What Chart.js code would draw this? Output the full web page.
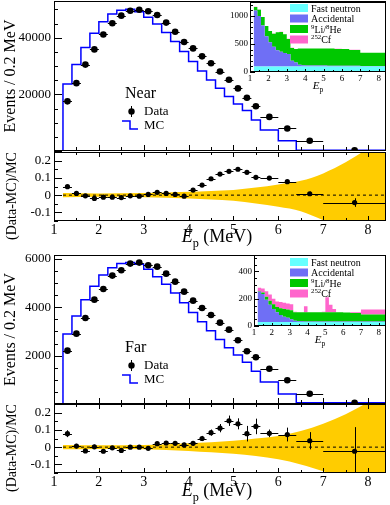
<!DOCTYPE html>
<html>
<head>
<meta charset="utf-8">
<title>Prompt energy spectra, Near and Far</title>
<script src="https://cdn.jsdelivr.net/npm/chart.js@4.4.1/dist/chart.umd.min.js"></script>
<style>
  body { margin: 0; background: #fff; }
  #fig { position: relative; width: 390px; height: 505px; overflow: hidden; background: #fff; }
  #fig canvas { position: absolute; }
</style>
</head>
<body>
<div id="fig">
  <canvas id="nearMain" width="390" height="152" style="left:0;top:0"></canvas>
  <canvas id="nearRatio" width="390" height="100" style="left:0;top:151px"></canvas>
  <canvas id="nearInset" width="162" height="96" style="left:228px;top:0"></canvas>
  <canvas id="farMain" width="390" height="152" style="left:0;top:253px"></canvas>
  <canvas id="farRatio" width="390" height="102" style="left:0;top:403px"></canvas>
  <canvas id="farInset" width="162" height="96" style="left:228px;top:253px"></canvas>
</div>
<script>
// bins (MeV): 0.2 wide up to 5.6, then wider ones
const binEdges = [1.2, 1.4, 1.6, 1.8, 2.0, 2.2, 2.4, 2.6, 2.8, 3.0, 3.2, 3.4, 3.6, 3.8, 4.0, 4.2, 4.4, 4.6, 4.8, 5.0, 5.2, 5.4, 5.6, 6.0, 6.4, 7.0, 8.4];
const binCenters = [1.3, 1.5, 1.7, 1.9, 2.1, 2.3, 2.5, 2.7, 2.9, 3.1, 3.3, 3.5, 3.7, 3.9, 4.1, 4.3, 4.5, 4.7, 4.9, 5.1, 5.3, 5.5, 5.8, 6.2, 6.7, 7.7];
const xTickLabels = [1, 2, 3, 4, 5, 6, 7, 8];

// Near
const nearData = [17550, 23970, 30530, 35900, 41170, 45160, 47830, 49580, 49930, 49370, 48070, 45370, 42110, 38490, 36250, 33440, 30980, 28070, 25160, 22110, 18830, 15790, 12040, 7970, 3610, 250];
const nearMC = [16700, 23700, 30600, 36600, 41600, 45700, 48400, 49750, 50100, 49200, 47300, 44900, 41900, 38700, 35200, 31600, 28300, 25050, 22150, 19300, 16650, 14350, 10950, 7390, 3580, 260];
const nearRatio = [0.049, 0.010, -0.004, -0.019, -0.012, -0.012, -0.014, -0.004, -0.006, 0.004, 0.016, 0.010, 0.004, -0.006, 0.029, 0.058, 0.095, 0.122, 0.138, 0.150, 0.132, 0.103, 0.099, 0.078, 0.008, -0.043];
const nearRatioErr = [0.005, 0.004, 0.004, 0.004, 0.004, 0.004, 0.004, 0.004, 0.004, 0.004, 0.004, 0.004, 0.004, 0.004, 0.005, 0.005, 0.005, 0.006, 0.006, 0.007, 0.007, 0.008, 0.008, 0.010, 0.012, 0.025];
const nearYTicks = [20000, 40000];

// Far
const farData = [2207, 2910, 3560, 4318, 4760, 5312, 5535, 5810, 5850, 5742, 5684, 5394, 5063, 4649, 4277, 3974, 3685, 3366, 3076, 2637, 2182, 1933, 1461, 981, 426, 54];
const farMC = [2047, 2893, 3640, 4309, 4877, 5333, 5642, 5810, 5850, 5782, 5573, 5268, 4954, 4589, 4185, 3785, 3400, 3032, 2668, 2323, 2024, 1726, 1353, 914, 411, 55];
const farRatio = [0.078, 0.006, -0.022, 0.002, -0.024, -0.004, -0.019, 0.000, 0.000, -0.007, 0.020, 0.024, 0.022, 0.013, 0.022, 0.050, 0.084, 0.110, 0.153, 0.135, 0.078, 0.120, 0.080, 0.073, 0.037, -0.024];
const farRatioErr = [0.020, 0.013, 0.012, 0.012, 0.011, 0.011, 0.011, 0.010, 0.010, 0.010, 0.010, 0.011, 0.011, 0.012, 0.013, 0.015, 0.018, 0.024, 0.030, 0.032, 0.045, 0.045, 0.022, 0.040, 0.050, 0.140];
const farYTicks = [2000, 4000, 6000];

// MC systematic band (yellow), sampled along E
const bandE = [1.2, 2, 3, 4, 4.5, 5, 5.5, 6, 6.5, 7, 7.5, 8, 8.4];
const nearBandUp = [0.013, 0.010, 0.012, 0.019, 0.024, 0.030, 0.044, 0.062, 0.083, 0.126, 0.190, 0.270, 0.330];
const nearBandLo = [-0.013, -0.010, -0.012, -0.020, -0.026, -0.033, -0.048, -0.068, -0.093, -0.146, -0.210, -0.290, -0.350];
const farBandUp = [0.013, 0.011, 0.012, 0.022, 0.028, 0.037, 0.050, 0.065, 0.093, 0.135, 0.190, 0.260, 0.320];
const farBandLo = [-0.013, -0.011, -0.012, -0.022, -0.030, -0.038, -0.052, -0.070, -0.100, -0.140, -0.200, -0.280, -0.340];
const ratioYTicks = [-0.1, 0, 0.1, 0.2];

// background insets (events per bin)
const nearFast = [100, 100, 100, 100, 100, 100, 100, 100, 100, 100, 100, 100, 100, 100, 100, 100, 100, 100, 100, 100, 100, 100, 100, 100, 100, 100];
const nearAcc = [1000, 900, 730, 540, 430, 350, 290, 260, 240, 220, 100, 70, 30, 20, 18, 16, 15, 15, 14, 14, 13, 13, 12, 12, 10, 8];
const nearLiHe = [60, 110, 150, 180, 200, 235, 320, 355, 335, 270, 230, 240, 290, 300, 302, 304, 305, 305, 306, 306, 307, 307, 300, 298, 285, 235];
const nearCf = [5, 4, 3, 3, 2, 2, 2, 2, 2, 2, 1, 1, 1, 1, 1, 1, 1, 1, 1, 1, 1, 1, 1, 1, 1, 1];
const nearInsetTicks = [0, 500, 1000];

const farFast = [30, 30, 30, 30, 30, 30, 30, 30, 30, 30, 30, 30, 30, 30, 30, 30, 30, 30, 30, 30, 30, 30, 30, 30, 30, 30];
const farAcc = [220, 205, 163, 125, 95, 70, 50, 38, 30, 20, 8, 5, 4, 3, 3, 3, 3, 3, 3, 3, 3, 3, 3, 3, 3, 3];
const farLiHe = [5, 10, 22, 30, 35, 40, 50, 57, 60, 65, 62, 65, 66, 67, 67, 67, 67, 67, 67, 67, 67, 67, 67, 66, 62, 52];
const farCf = [25, 30, 40, 45, 40, 40, 45, 45, 45, 45, 5, 0, 0, 45, 0, 0, 0, 0, 5, 110, 55, 25, 0, 0, 5, 35];
const farInsetTicks = [0, 200, 400];

const bkgNames = [['Fast neutron'], ['Accidental'], ['9', 'Li/', '8', 'He'], ['252', 'Cf']];
const bkgColors = ['#66ffff', '#6f6ff5', '#00c800', '#ff66cc'];

const SERIF = '"Liberation Serif", "DejaVu Serif", serif';

// histogram outline: leading zero, one point per left edge, closing point at last edge
function stepPoints(vals) {
  const pts = [{ x: binEdges[0], y: 0 }];
  vals.forEach((v, i) => pts.push({ x: binEdges[i], y: v }));
  pts.push({ x: binEdges[binEdges.length - 1], y: vals[vals.length - 1] });
  return pts;
}
// flat top across each bin (two points per bin)
function binTops(vals) {
  const pts = [];
  vals.forEach((v, i) => {
    pts.push({ x: binEdges[i], y: v });
    pts.push({ x: binEdges[i + 1], y: v });
  });
  return pts;
}
// stack the components bin by bin, bottom first
function stackUp(comps) {
  const run = comps[0].map(() => 0);
  return comps.map(vals => vals.map((v, i) => (run[i] += v)));
}

// text with italic / sub / sup pieces: segs = [[text, kind], ...]
function drawRich(ctx, segs, x, y, size, align) {
  const fontFor = k => (k === 'i' ? 'italic ' : '') + ((k === 'sub' || k === 'sup') ? size * 0.68 : size) + 'px ' + SERIF;
  let w = 0;
  segs.forEach(([t, k]) => { ctx.font = fontFor(k); w += ctx.measureText(t).width; });
  let cx = align === 'center' ? x - w / 2 : x;
  ctx.textAlign = 'left';
  ctx.textBaseline = 'alphabetic';
  segs.forEach(([t, k]) => {
    ctx.font = fontFor(k);
    const dy = k === 'sub' ? size * 0.28 : k === 'sup' ? -size * 0.38 : 0;
    ctx.fillText(t, cx, y + dy);
    cx += ctx.measureText(t).width;
  });
}

function tickLoop(min, max, step, major, fn) {
  const n0 = Math.ceil(min / step - 1e-6), n1 = Math.floor(max / step + 1e-6);
  for (let n = n0; n <= n1; n++) {
    const v = n * step;
    const r = v / major;
    fn(v, Math.abs(r - Math.round(r)) < 1e-6);
  }
}

// fixed axis sizes, and no label overhang padding
function fixWidth(w) {
  return s => { s.width = w; s.paddingTop = 0; s.paddingBottom = 0; };
}
function fixHeight(h) {
  return s => { s.height = h; s.paddingLeft = 0; s.paddingRight = 0; };
}

// ROOT-like decoration: white pad, frame, inward ticks, error bars, titles, legends
const deco = {
  id: 'deco',
  beforeDatasetsDraw(chart, args, o) {
    if (!o.white) return;
    const a = chart.chartArea, ctx = chart.ctx;
    ctx.save();
    ctx.fillStyle = '#fff';
    ctx.fillRect(a.left, a.top, a.right - a.left, a.bottom - a.top);
    ctx.restore();
  },
  afterDatasetsDraw(chart, args, o) {
    const ctx = chart.ctx, a = chart.chartArea, xs = chart.scales.x, ys = chart.scales.y;
    ctx.save();
    // error bars
    chart.data.datasets.forEach((ds, di) => {
      if (!ds.errBars) return;
      ctx.save();
      ctx.beginPath();
      ctx.rect(a.left, a.top, a.right - a.left, a.bottom - a.top);
      ctx.clip();
      ctx.strokeStyle = '#000';
      ctx.lineWidth = 1;
      ctx.beginPath();
      ds.data.forEach((p, i) => {
        const py = Math.round(ys.getPixelForValue(p.y)) + 0.5;
        const px = Math.round(xs.getPixelForValue(p.x)) + 0.5;
        ctx.moveTo(xs.getPixelForValue(binEdges[i]), py);
        ctx.lineTo(xs.getPixelForValue(binEdges[i + 1]), py);
        if (ds.errBars.y) {
          const e = ds.errBars.y[i];
          ctx.moveTo(px, ys.getPixelForValue(p.y - e));
          ctx.lineTo(px, ys.getPixelForValue(p.y + e));
        }
      });
      ctx.stroke();
      ctx.restore();
    });
    ctx.restore();
  },
  afterDraw(chart, args, o) {
    const ctx = chart.ctx, a = chart.chartArea, xs = chart.scales.x, ys = chart.scales.y;
    ctx.save();
    ctx.strokeStyle = '#000';
    ctx.fillStyle = '#000';
    ctx.lineWidth = 1;
    // ticks
    ctx.beginPath();
    if (o.xt) {
      tickLoop(xs.min, xs.max, o.xt.step, o.xt.major, (v, maj) => {
        const L = maj ? o.xt.len[0] : o.xt.len[1];
        const px = Math.round(xs.getPixelForValue(v)) + 0.5;
        ctx.moveTo(px, a.bottom); ctx.lineTo(px, a.bottom - L);
        if (o.xt.top) { ctx.moveTo(px, a.top); ctx.lineTo(px, a.top + L); }
      });
    }
    if (o.yt) {
      tickLoop(ys.min, ys.max, o.yt.step, o.yt.major, (v, maj) => {
        const L = maj ? o.yt.len[0] : o.yt.len[1];
        const py = Math.round(ys.getPixelForValue(v)) + 0.5;
        ctx.moveTo(a.left, py); ctx.lineTo(a.left + L, py);
      });
    }
    ctx.stroke();
    // frame
    ctx.strokeRect(Math.round(a.left) + 0.5, Math.round(a.top) + 0.5, Math.round(a.right - a.left) - 1, Math.round(a.bottom - a.top) - 1);

    // axis titles
    if (o.yTitle) {
      ctx.save();
      ctx.translate(o.yTitle.x, a.top + (o.yTitle.dy === undefined ? (a.bottom - a.top) / 2 : o.yTitle.dy));
      ctx.rotate(-Math.PI / 2);
      ctx.font = o.yTitle.size + 'px ' + SERIF;
      ctx.textAlign = 'center';
      ctx.textBaseline = 'middle';
      ctx.fillText(o.yTitle.text, 0, 0);
      ctx.restore();
    }
    if (o.xTitle) {
      drawRich(ctx, [['E', 'i'], ['p', 'sub'], o.xTitle.unit ? [' (MeV)', ''] : ['', '']],
        (a.left + a.right) / 2 + (o.xTitle.dx || 0), a.bottom + o.xTitle.dy, o.xTitle.size, 'center');
    }

    // main legend: detector name, Data, MC
    if (o.mainLegend) {
      const L = a.left, T = a.top;
      ctx.font = '16px ' + SERIF;
      ctx.textAlign = 'left';
      ctx.textBaseline = 'alphabetic';
      ctx.fillText(o.mainLegend, L + 71, T + 97);
      ctx.font = '13px ' + SERIF;
      ctx.fillText('Data', L + 90, T + 114);
      ctx.fillText('MC', L + 90, T + 128);
      ctx.beginPath();
      ctx.arc(L + 77.5, T + 110.5, 3.2, 0, Math.PI * 2);
      ctx.fill();
      ctx.beginPath();
      ctx.moveTo(L + 77.5, T + 105); ctx.lineTo(L + 77.5, T + 116);
      ctx.stroke();
      ctx.strokeStyle = '#0000ff';
      ctx.lineWidth = 1.5;
      ctx.beginPath();
      ctx.moveTo(L + 68, T + 120); ctx.lineTo(L + 76, T + 120);
      ctx.lineTo(L + 76, T + 128); ctx.lineTo(L + 84, T + 128);
      ctx.stroke();
    }

    // inset legend
    if (o.insetLegend) {
      const R = a.right, T = a.top + o.insetLegend.dy;
      bkgNames.forEach((segs, i) => {
        const cy = T + i * 10.5;
        ctx.fillStyle = bkgColors[i];
        ctx.fillRect(R - 96, cy - 4, 18, 8);
        ctx.fillStyle = '#000';
        const rich = segs.length === 1 ? [[segs[0], '']] :
          segs.length === 4 ? [[segs[0], 'sup'], [segs[1], ''], [segs[2], 'sup'], [segs[3], '']] :
          [[segs[0], 'sup'], [segs[1], '']];
        drawRich(ctx, rich, R - 75, cy + 3.5, 10, 'left');
      });
    }
    ctx.restore();
  }
};

const tickFont = size => ({ family: SERIF, size: size });
const noGrid = { display: false, drawTicks: false, tickLength: 0 };

function mainChart(id, dataVals, mcVals, yMax, yTicks, yt, padTop, name) {
  return new Chart(document.getElementById(id), {
    type: 'line',
    data: {
      datasets: [
        {
          label: 'Data',
          data: binCenters.map((x, i) => ({ x: x, y: dataVals[i] })),
          showLine: false,
          pointRadius: 3.3,
          pointBackgroundColor: '#000',
          pointBorderWidth: 0,
          errBars: { y: null },
          order: 0
        },
        {
          label: 'MC',
          data: stepPoints(mcVals),
          stepped: 'after',
          borderColor: '#0000ff',
          borderWidth: 1.5,
          pointRadius: 0,
          fill: false,
          order: 1
        }
      ]
    },
    options: {
      responsive: false,
      devicePixelRatio: 1,
      animation: false,
      layout: { autoPadding: false, padding: { left: 0, right: 4, top: padTop, bottom: 1 } },
      plugins: {
        legend: { display: false },
        tooltip: { enabled: false },
        deco: {
          xt: { step: 0.5, major: 1, len: [6, 4] },
          yt: yt,
          yTitle: { text: 'Events / 0.2 MeV', x: 11, size: 16 },
          mainLegend: name
        }
      },
      scales: {
        x: { type: 'linear', min: 1, max: 8.4, display: false },
        y: {
          min: 0, max: yMax,
          afterFit: fixWidth(54),
          afterBuildTicks: s => { s.ticks = yTicks.map(v => ({ value: v })); },
          grid: noGrid,
          border: { display: false },
          ticks: { font: tickFont(13), color: '#000', padding: 3, callback: v => String(v) }
        }
      }
    },
    plugins: [deco]
  });
}

function ratioChart(id, ratio, err, bandUp, bandLo, padTop, axisH, titleDy) {
  return new Chart(document.getElementById(id), {
    type: 'line',
    data: {
      datasets: [
        {
          data: binCenters.map((x, i) => ({ x: x, y: ratio[i] })),
          showLine: false,
          pointRadius: 2.6,
          pointBackgroundColor: '#000',
          pointBorderWidth: 0,
          errBars: { y: err },
          order: 0
        },
        {
          data: [{ x: binEdges[0], y: 0 }, { x: binEdges[binEdges.length - 1], y: 0 }],
          borderColor: '#000',
          borderWidth: 1,
          borderDash: [3, 3],
          pointRadius: 0,
          fill: false,
          order: 1
        },
        {
          data: bandE.map((x, i) => ({ x: x, y: bandUp[i] })),
          borderWidth: 0,
          borderColor: 'rgba(0,0,0,0)',
          pointRadius: 0,
          cubicInterpolationMode: 'monotone',
          fill: '+1',
          backgroundColor: '#ffcc00',
          order: 2
        },
        {
          data: bandE.map((x, i) => ({ x: x, y: bandLo[i] })),
          borderWidth: 0,
          borderColor: 'rgba(0,0,0,0)',
          pointRadius: 0,
          cubicInterpolationMode: 'monotone',
          fill: false,
          order: 3
        }
      ]
    },
    options: {
      responsive: false,
      devicePixelRatio: 1,
      animation: false,
      layout: { autoPadding: false, padding: { left: 0, right: 4, top: padTop, bottom: 0 } },
      plugins: {
        legend: { display: false },
        tooltip: { enabled: false },
        deco: {
          xt: { step: 0.5, major: 1, len: [5, 3], top: true },
          yt: { step: 0.05, major: 0.1, len: [8, 4] },
          yTitle: { text: '(Data-MC)/MC', x: 12, size: 14, dy: 44 },
          xTitle: { size: 18, dy: titleDy, unit: true, dx: -3 }
        }
      },
      scales: {
        x: {
          type: 'linear', min: 1, max: 8.4,
          afterFit: fixHeight(axisH),
          afterBuildTicks: s => { s.ticks = xTickLabels.map(v => ({ value: v })); },
          grid: noGrid,
          border: { display: false },
          ticks: { font: tickFont(14), color: '#000', padding: 1, maxRotation: 0, callback: v => String(v) }
        },
        y: {
          min: -0.15, max: 0.25,
          afterFit: fixWidth(54),
          afterBuildTicks: s => { s.ticks = ratioYTicks.map(v => ({ value: v })); },
          grid: noGrid,
          border: { display: false },
          ticks: { font: tickFont(13), color: '#000', padding: 3, callback: v => (v === 0 ? '0' : v.toFixed(1)) }
        }
      }
    },
    plugins: [deco]
  });
}

function insetChart(id, comps, yMax, yTicks, ytStep, ytMajor, axisW, axisH, legendDy) {
  const tops = stackUp(comps);
  return new Chart(document.getElementById(id), {
    type: 'line',
    data: {
      datasets: tops.map((vals, i) => ({
        data: binTops(vals),
        borderWidth: 0,
        borderColor: bkgColors[i],
        backgroundColor: bkgColors[i],
        pointRadius: 0,
        fill: i === 0 ? 'origin' : '-1'
      }))
    },
    options: {
      responsive: false,
      devicePixelRatio: 1,
      animation: false,
      layout: { autoPadding: false, padding: { left: 0, right: 4, top: 2, bottom: 0 } },
      plugins: {
        legend: { display: false },
        tooltip: { enabled: false },
        deco: {
          white: true,
          xt: { step: 0.5, major: 1, len: [3, 2] },
          yt: { step: ytStep, major: ytMajor, len: [5, 3] },
          xTitle: { size: 11, dy: 17, unit: false },
          insetLegend: { dy: legendDy }
        }
      },
      scales: {
        x: {
          type: 'linear', min: 1, max: 8.4,
          afterFit: fixHeight(axisH),
          afterBuildTicks: s => { s.ticks = xTickLabels.map(v => ({ value: v })); },
          grid: noGrid,
          border: { display: false },
          ticks: { font: tickFont(9), color: '#000', padding: 1, maxRotation: 0, callback: v => String(v) }
        },
        y: {
          min: 0, max: yMax,
          afterFit: fixWidth(axisW),
          afterBuildTicks: s => { s.ticks = yTicks.map(v => ({ value: v })); },
          grid: noGrid,
          border: { display: false },
          ticks: { font: tickFont(9), color: '#000', padding: 2, callback: v => String(v) }
        }
      }
    },
    plugins: [deco]
  });
}

mainChart('nearMain', nearData, nearMC, 53000, nearYTicks, { step: 5000, major: 20000, len: [8, 4] }, 1, 'Near');
ratioChart('nearRatio', nearRatio, nearRatioErr, nearBandUp, nearBandLo, 1, 30, 21);
insetChart('nearInset', [nearFast, nearAcc, nearLiHe, nearCf], 1250, nearInsetTicks, 100, 500, 22, 24, 6);

mainChart('farMain', farData, farMC, 6165, farYTicks, { step: 500, major: 2000, len: [8, 4] }, 2, 'Far');
ratioChart('farRatio', farRatio, farRatioErr, farBandUp, farBandLo, 1, 32, 23);
insetChart('farInset', [farFast, farAcc, farLiHe, farCf], 520, farInsetTicks, 50, 200, 26, 23, 7);
</script>
</body>
</html>
